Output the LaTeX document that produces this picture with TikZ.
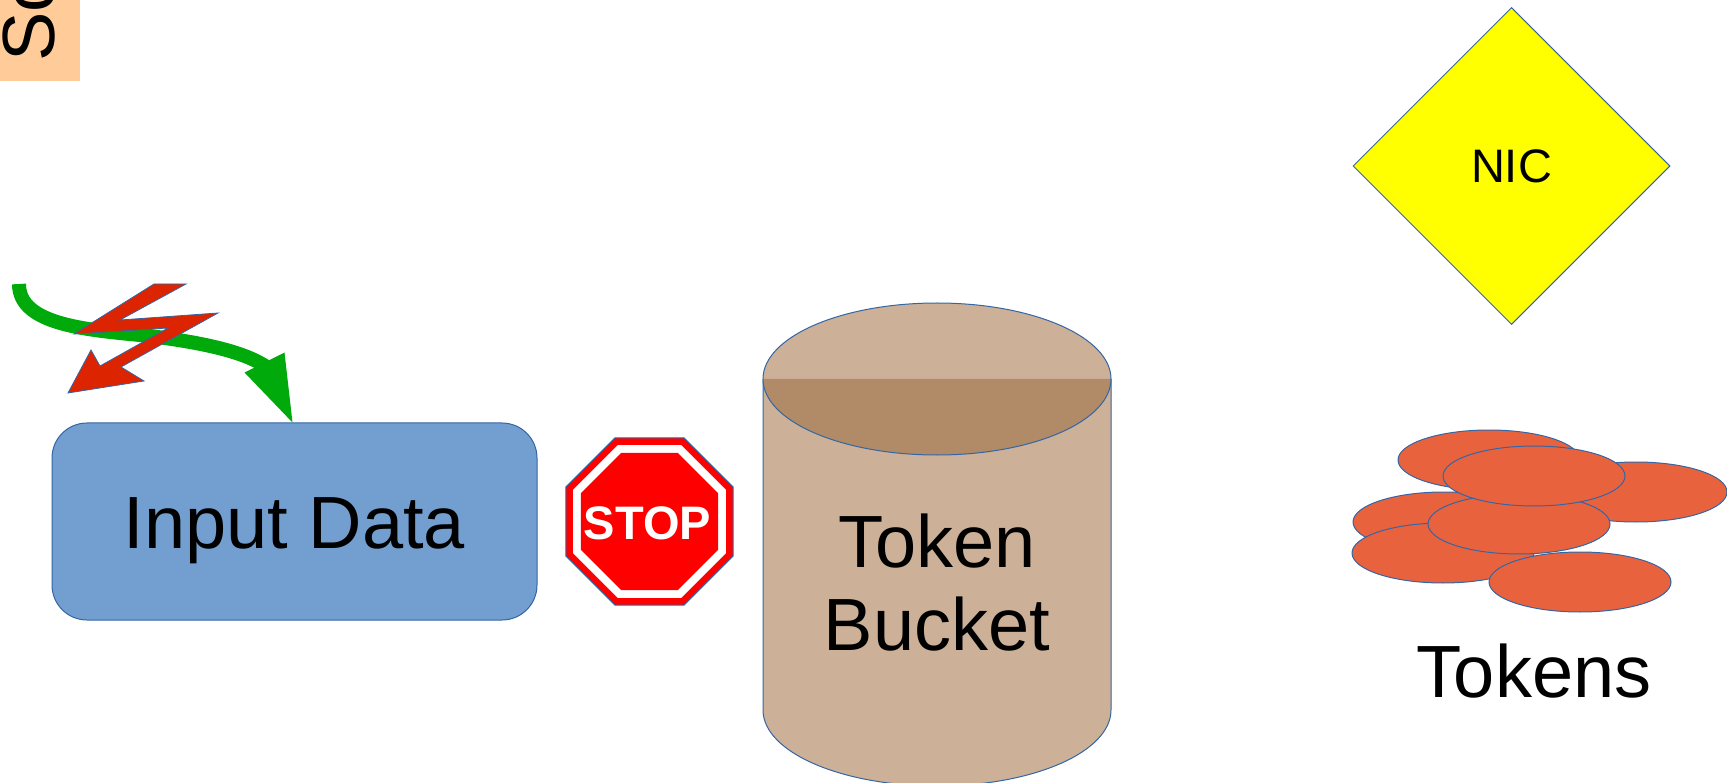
\documentclass[tikz,border=0pt]{standalone}
\usepackage{fontspec}
\setmainfont{Liberation Sans}
\usetikzlibrary{shapes.geometric,calc}

\definecolor{edgeblue}{HTML}{3465A4}
\definecolor{boxblue}{HTML}{729FCF}
\definecolor{peach}{HTML}{FFCC99}
\definecolor{arrowgreen}{RGB}{0,170,10}
\definecolor{boltred}{RGB}{220,36,0}
\definecolor{signred}{RGB}{255,0,0}
\definecolor{tanlight}{RGB}{204,177,152}
\definecolor{tandark}{RGB}{177,139,104}
\definecolor{tokenfill}{RGB}{233,98,62}
\definecolor{nicyellow}{RGB}{255,255,0}

\newcommand{\hugelabel}{\fontsize{74}{83}\selectfont}
\newcommand{\signlabel}{\fontsize{47}{52}\selectfont}

\tikzset{
  outline/.style={draw=edgeblue, line width=1pt},
  token/.style={ellipse, outline, fill=tokenfill, minimum width=182pt,
                minimum height=60pt, inner sep=0pt},
  capline/.style={text height=53pt, text depth=0pt, font=\hugelabel},
}

% octagon with flat top and bottom, given centre and circumradius
\newcommand{\octpath}[2]{($(#1)+(22.5:#2)$)
  -- ($(#1)+(67.5:#2)$) -- ($(#1)+(112.5:#2)$) -- ($(#1)+(157.5:#2)$)
  -- ($(#1)+(202.5:#2)$) -- ($(#1)+(247.5:#2)$) -- ($(#1)+(292.5:#2)$)
  -- ($(#1)+(337.5:#2)$) -- cycle}

\begin{document}
\begin{tikzpicture}[x=1pt, y=-1pt]
\useasboundingbox (0,0) rectangle (1727,783);
\clip (0,0) rectangle (1727,783);

% source tab in the top-left corner
\node[fill=peach, minimum width=80pt, minimum height=120pt, inner sep=0pt,
      anchor=south west] (srcbox) at (0,81) {};
\node[rotate=90, anchor=base west, inner sep=0pt, font=\hugelabel]
      (srclabel) at (54,62) {So};

% input data block
\node[outline, fill=boxblue, rounded corners=35pt, minimum width=485pt,
      minimum height=197pt, inner sep=0pt, capline] (input) at (294.5,521.5) {Input Data};

% curved green arrow into the input block
\coordinate (gstart) at (19,284);
\coordinate (gtip) at ($(input.north west)+(241,0)$);
\draw[arrowgreen, line width=14pt]
  (gstart) .. controls (19,326) and (90,330) .. (150,336)
           .. controls (205,343) and (245,352) .. ($(gtip)+(-25,-55)$);
\fill[arrowgreen] ($(gtip)+(-48,-50)$) -- (gtip) -- ($(gtip)+(-8,-70)$) -- cycle;

% lightning bolt
\filldraw[fill=boltred, draw=edgeblue, line width=0.8pt]
  (154,284) -- (186,284) -- (120,320) -- (218,313) -- (121,367) -- (144,381)
  -- (68,393) -- (91,350) -- (100,366) -- (168,328) -- (74,334) -- cycle;

% stop sign: red rim, white ring, red face
\coordinate (stop) at (649.5,521.5);
\filldraw[fill=signred, draw=edgeblue, line width=1pt] \octpath{stop}{90.4pt};
\fill[white] \octpath{stop}{82.7pt};
\fill[signred] \octpath{stop}{74.2pt};
\node[text=white, font=\bfseries\signlabel, text height=33.5pt, text depth=0pt,
      inner sep=0pt] (stoplabel) at ($(stop)+(-2,1)$) {STOP};

% token bucket (cylinder)
\coordinate (bktop) at (937,379);
\fill[tanlight] (763,379) -- (763,710)
  arc[start angle=180, end angle=360, x radius=174pt, y radius=76pt] -- (1111,379) -- cycle;
\draw[outline] (763,379) -- (763,710)
  arc[start angle=180, end angle=360, x radius=174pt, y radius=76pt] -- (1111,379);
\fill[tanlight] (bktop) ellipse[x radius=174pt, y radius=76pt];
\fill[tandark] (763,379) arc[start angle=180, end angle=360, x radius=174pt, y radius=76pt] -- cycle;
\draw[outline] (bktop) ellipse[x radius=174pt, y radius=76pt];
\node[align=center, font=\hugelabel, inner sep=0pt] (bucket) at (937,582.5) {Token\\Bucket};

% NIC
\node[diamond, outline, fill=nicyellow, minimum width=317pt, minimum height=317pt,
      inner sep=0pt, font=\signlabel, text height=33.5pt, text depth=0pt] (nic) at (1511.5,166) {NIC};

% pile of tokens
\node[token] (t1) at (1489,460) {};
\node[token] (t2) at (1636,492) {};
\node[token] (t4) at (1444,522) {};
\node[token] (t6) at (1443,553) {};
\node[token] (t7) at (1580,582) {};
\node[token] (t5) at (1519,524) {};
\node[token] (t3) at (1534,476) {};
\node[capline, inner sep=0pt] (tokens) at (1534,670.5) {Tokens};
\end{tikzpicture}
\end{document}
